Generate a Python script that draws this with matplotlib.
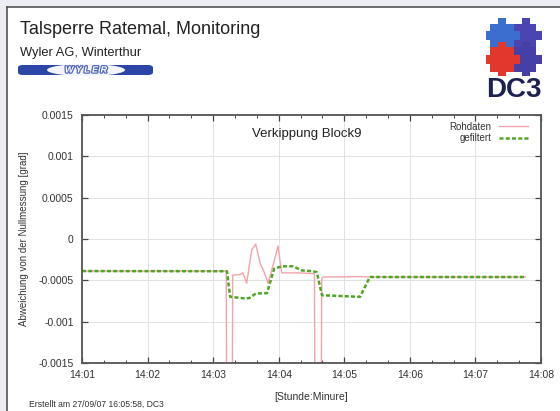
import matplotlib

matplotlib.use("Agg")

import matplotlib.pyplot as plt
import matplotlib.patheffects as pe
from matplotlib.patches import FancyBboxPatch, Ellipse, Rectangle

# minutes after 14:00, values in 1e-3 grad
raw_t = [1.0, 3.20, 3.207, 3.29, 3.298, 3.41, 3.455, 3.512, 3.588, 3.649,
         3.715, 3.776, 3.837, 3.928, 3.989, 4.046, 4.10, 4.30, 4.545, 4.553,
         4.645, 4.656, 4.675, 5.24, 5.39, 7.76]
raw_v = [-0.388, -0.388, -2.5, -2.5, -0.437, -0.43, -0.41, -0.534, -0.133, -0.061,
         -0.291, -0.397, -0.534, -0.275, -0.085, -0.409, -0.41, -0.41, -0.42, -2.5,
         -2.5, -0.485, -0.46, -0.455, -0.46, -0.46]

filt_t = [1.0, 3.21, 3.26, 3.50, 3.55, 3.65, 3.82, 3.93, 4.05, 4.22, 4.35,
          4.52, 4.58, 4.66, 5.24, 5.39, 7.76]
filt_v = [-0.388, -0.39, -0.70, -0.72, -0.715, -0.66, -0.655, -0.36, -0.33, -0.33, -0.38,
          -0.39, -0.40, -0.68, -0.70, -0.46, -0.46]

x_ticks = [1, 2, 3, 4, 5, 6, 7, 8]
x_labels = ["14:01", "14:02", "14:03", "14:04", "14:05", "14:06", "14:07", "14:08"]
y_ticks = [-0.0015, -0.001, -0.0005, 0, 0.0005, 0.001, 0.0015]
y_labels = ["-0.0015", "-0.001", "-0.0005", "0", "0.0005", "0.001", "0.0015"]

plt.rcParams.update({"font.family": "Liberation Sans"})

W, H = 560, 411
fig = plt.figure(figsize=(5.6, 4.11), dpi=100)
fig.patch.set_facecolor("white")


def fx(px):
    return px / W


def fy(py):
    return 1 - py / H


# outer frame strips
fig.add_artist(Rectangle((0, fy(7)), 1, 7 / H, transform=fig.transFigure,
                         facecolor="#eceef3", edgecolor="none"))
fig.add_artist(Rectangle((0, 0), fx(7), 1, transform=fig.transFigure,
                         facecolor="#eceef3", edgecolor="none"))
fig.add_artist(plt.Line2D([fx(7), 1], [fy(7), fy(7)], transform=fig.transFigure,
                          color="#555555", lw=1.2))
fig.add_artist(plt.Line2D([fx(7), fx(7)], [0, fy(7)], transform=fig.transFigure,
                          color="#555555", lw=1.2))

# header
fig.text(fx(20), fy(29), "Talsperre Ratemal, Monitoring", fontsize=13,
         color="#222222", va="center")
fig.text(fx(20), fy(53), "Wyler AG, Winterthur", fontsize=9.3,
         color="#222222", va="center")

# WYLER logo
fig.add_artist(FancyBboxPatch((fx(18), fy(75)), 135 / W, 10 / H,
                              boxstyle="round,pad=0,rounding_size=0.009",
                              transform=fig.transFigure, facecolor="#2b46a6",
                              edgecolor="none", mutation_aspect=H / W))
fig.add_artist(Ellipse((fx(86), fy(70)), 78 / W, 12 / H, transform=fig.transFigure,
                       facecolor="#f4f5fb", edgecolor="none"))
fig.text(fx(86), fy(70), "W Y L E R", fontsize=6.5, fontweight="bold", style="italic",
         color="white", ha="center", va="center",
         path_effects=[pe.withStroke(linewidth=1.8, foreground="#5068b8")])

# DC3 logo (puzzle)
logo = fig.add_axes([fx(486), fy(76), 56 / W, 58 / H])
logo.set_xlim(0, 4)
logo.set_ylim(0, 4)
logo.axis("off")
pieces = [
    (0.3, 2.0, 1.7, 1.6, "#3c6ed0"),
    (2.0, 2.0, 1.6, 1.6, "#4b45b2"),
    (0.3, 0.3, 1.7, 1.7, "#e2372c"),
    (2.0, 0.3, 1.6, 1.7, "#463fa5"),
]
for px, py, pw, ph, c in pieces:
    logo.add_patch(Rectangle((px, py), pw, ph, facecolor=c, edgecolor="none"))
tabs = [
    (0.85, 3.55, 0.6, 0.45, "#3c6ed0"), (2.55, 3.55, 0.6, 0.45, "#4b45b2"),
    (0.0, 2.5, 0.35, 0.6, "#3c6ed0"), (3.55, 2.5, 0.45, 0.6, "#4b45b2"),
    (1.95, 2.5, 0.45, 0.6, "#3c6ed0"), (0.0, 0.85, 0.35, 0.6, "#e2372c"),
    (1.95, 0.85, 0.45, 0.6, "#e2372c"), (2.55, 1.95, 0.6, 0.4, "#463fa5"),
    (0.85, 1.95, 0.6, 0.4, "#e2372c"), (3.55, 0.85, 0.45, 0.6, "#463fa5"),
    (0.85, 0.0, 0.6, 0.35, "#e2372c"), (2.55, 0.0, 0.6, 0.35, "#463fa5"),
]
for px, py, pw, ph, c in tabs:
    logo.add_patch(Rectangle((px, py), pw, ph, facecolor=c, edgecolor="none"))
fig.text(fx(514), fy(90), "DC3", fontsize=20, fontweight="bold",
         color="#1c2152", ha="center", va="center")

# main plot
ax = fig.add_axes([fx(82), fy(363), 459 / W, 248 / H])
ax.plot(raw_t, [v * 1e-3 for v in raw_v], color="#f2a3ab", lw=1.0, label="Rohdaten")
ax.plot(filt_t, [v * 1e-3 for v in filt_v], color="#4fa524", lw=1.8,
        dashes=(1.6, 0.9), label="gefiltert")

ax.set_xlim(1, 8)
ax.set_ylim(-0.0015, 0.0015)
ax.set_xticks(x_ticks)
ax.set_xticklabels(x_labels)
ax.set_xticks([1 + i / 3 for i in range(22)], minor=True)
ax.set_yticks(y_ticks)
ax.set_yticklabels(y_labels)
ax.grid(True, color="#e2e2e2", lw=0.7)
ax.set_axisbelow(True)
ax.tick_params(which="both", direction="in", top=True, right=True,
               labelsize=7.5, labelcolor="#333333", color="#444444")
ax.tick_params(which="major", length=4, width=0.9)
ax.tick_params(axis="y", which="major", pad=6)
ax.tick_params(axis="x", which="major", pad=5)
ax.tick_params(which="minor", length=2.5, width=0.7)
for s in ax.spines.values():
    s.set_color("#555555")
    s.set_linewidth(1.3)

ax.text(0.49, 0.925, "Verkippung Block9", transform=ax.transAxes, fontsize=9.5,
        ha="center", va="center", color="#222222")
ax.legend(loc="upper right", bbox_to_anchor=(1 - 6 / 459, 1.0), markerfirst=False,
          frameon=False, fontsize=7, handlelength=3.0, labelspacing=0.15,
          borderaxespad=0.3, labelcolor="#333333")

ax.set_xlabel("[Stunde:Minure]", fontsize=7.5, color="#333333", labelpad=9)
ax.set_ylabel("Abweichung von der Nullmessung [grad]", fontsize=7, color="#333333",
              labelpad=7)

fig.text(fx(29), fy(404), "Erstellt am 27/09/07 16:05:58, DC3", fontsize=6.2,
         color="#333333", va="center")

fig.savefig("out.png", dpi=100)
